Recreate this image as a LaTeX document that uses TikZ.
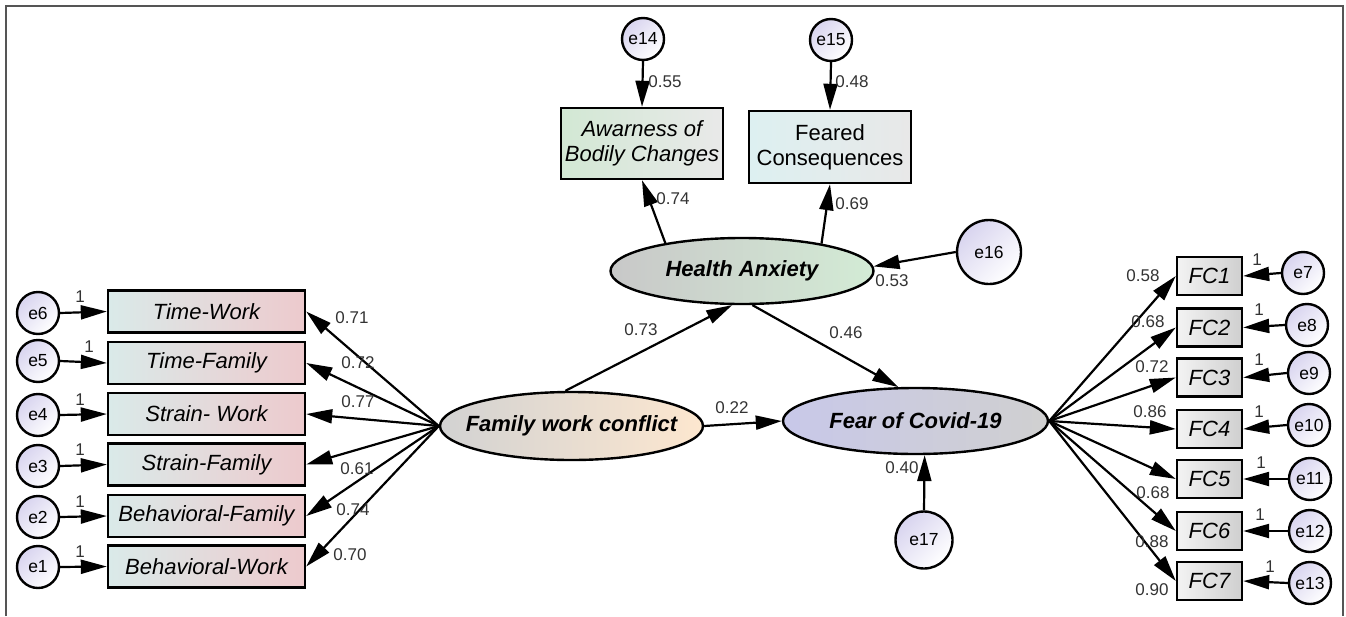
\documentclass[tikz,border=0pt]{standalone}
\usepackage{fontspec}
\setmainfont{Liberation Sans}
\usetikzlibrary{arrows.meta,shapes.geometric}
\definecolor{lbl}{HTML}{DAEAE9}
\definecolor{lbr}{HTML}{EDCACD}
\definecolor{awl}{HTML}{D2E8D4}
\definecolor{awr}{HTML}{E9E9E9}
\definecolor{fql}{HTML}{DDF0F1}
\definecolor{fqr}{HTML}{E8E8E8}
\definecolor{fcl}{HTML}{F3F3F3}
\definecolor{fcr}{HTML}{CFCFCF}
\definecolor{hal}{HTML}{C8C8C8}
\definecolor{har}{HTML}{D3EBD5}
\definecolor{faml}{HTML}{D2D2D2}
\definecolor{famr}{HTML}{FDE7CF}
\definecolor{fearl}{HTML}{C8C8E9}
\definecolor{fearr}{HTML}{D0D0D0}
\definecolor{cirl}{HTML}{D8D4EF}
\definecolor{labc}{HTML}{333333}
\definecolor{framec}{HTML}{555555}
\begin{document}
\begin{tikzpicture}[x=1pt,y=-1pt,
  box/.style={draw=black, line width=2.4pt, rectangle, inner sep=0pt,
    font=\fontsize{22}{25}\selectfont\itshape},
  lbox/.style={box, minimum width=197pt, minimum height=42pt, left color=lbl, right color=lbr},
  fcbox/.style={box, minimum width=65pt, minimum height=38pt, left color=fcl, right color=fcr},
  latent/.style={draw=black, line width=2.4pt, ellipse, inner sep=0pt,
    font=\fontsize{22}{25}\selectfont\bfseries\itshape},
  err/.style={draw=black, line width=2.4pt, circle, inner sep=0pt, minimum size=42pt,
    top color=cirl, bottom color=white, shading angle=45, font=\fontsize{17.5}{20}\selectfont},
  lab/.style={inner sep=0pt, text=labc, font=\fontsize{17}{19}\selectfont},
  arr/.style={line width=2.2pt, -{Triangle[length=26pt,width=14pt]}}
]
\useasboundingbox (0,0) rectangle (1346,616);
\draw[framec, line width=1.5pt] (6,616) -- (6,6) -- (1343,6) -- (1343,616);

% left indicators
\node[lbox] (tw) at (206.5,311.5) {Time-Work};
\node[lbox] (tf) at (206.5,363) {Time-Family};
\node[lbox] (sw) at (206.5,414) {Strain- Work};
\node[lbox] (sf) at (206.5,464.5) {Strain-Family};
\node[lbox] (bf) at (206.5,516) {Behavioral-Family};
\node[lbox] (bw) at (206.5,566.5) {Behavioral-Work};

\node[err] (e6) at (38,313) {e6};
\node[err] (e5) at (38,361) {e5};
\node[err] (e4) at (38,415) {e4};
\node[err] (e3) at (38,466) {e3};
\node[err] (e2) at (38,517) {e2};
\node[err] (e1) at (38,567) {e1};

\foreach \e/\b in {e6/tw,e5/tf,e4/sw,e3/sf,e2/bf,e1/bw}
  \draw[arr] (\e.east) -- (\b.west);

\node[lab] (o6) at (80,297) {1};
\node[lab] (o5) at (89,347) {1};
\node[lab] (o4) at (80,400) {1};
\node[lab] (o3) at (80,450) {1};
\node[lab] (o2) at (80,502) {1};
\node[lab] (o1) at (80,552) {1};

% latent variables
\node[latent, minimum width=263pt, minimum height=68pt, left color=faml, right color=famr]
  (fam) at (571.5,426) {\makebox[0pt]{Family work conflict}};
\node[latent, minimum width=265pt, minimum height=66pt, left color=fearl, right color=fearr]
  (fear) at (915.5,421) {\makebox[0pt]{Fear of Covid-19}};
\node[latent, minimum width=263pt, minimum height=66pt, left color=hal, right color=har]
  (ha) at (742,271) {\makebox[0pt]{Health Anxiety}};

% health anxiety indicators
\node[box, minimum width=162pt, minimum height=71pt, align=center, left color=awl, right color=awr]
  (aw) at (642,143.5) {Awarness of\\Bodily Changes};
\node[box, minimum width=162pt, minimum height=72pt, align=center, left color=fql, right color=fqr,
  font=\fontsize{22}{25}\selectfont\upshape]
  (fcq) at (830,147) {Feared\\Consequences};

\node[err] (e14) at (643,39) {e14};
\node[err] (e15) at (831,40) {e15};
\node[err, minimum size=64pt] (e16) at (989,252) {e16};
\node[err, minimum size=57pt] (e17) at (924,540) {e17};

\draw[arr] (e14.south) -- (aw.north);
\draw[arr] (e15.south) -- (fcq.north);
\draw[arr] (ha.160) -- (aw.south);
\draw[arr] (ha.19) -- (fcq.south);
\draw[arr] (e16.west) -- (ha.2);
\draw[arr] (e17.north) -- (fear.285);
\draw[arr] (fam.100) -- (ha.254);
\draw[arr] (ha.287) -- (fear.117);
\draw[arr] (fam.east) -- (fear.west);

\foreach \b in {tw,tf,sw,sf,bf,bw}
  \draw[arr] (fam.west) -- (\b.east);

% right indicators
\node[fcbox] (fc1) at (1209.5,276) {FC1};
\node[fcbox] (fc2) at (1209.5,327.5) {FC2};
\node[fcbox] (fc3) at (1209.5,377.5) {FC3};
\node[fcbox] (fc4) at (1209.5,429) {FC4};
\node[fcbox] (fc5) at (1209.5,479) {FC5};
\node[fcbox] (fc6) at (1209.5,531) {FC6};
\node[fcbox] (fc7) at (1209.5,581) {FC7};

\node[err] (e7) at (1303,273) {e7};
\node[err] (e8) at (1307,325) {e8};
\node[err] (e9) at (1309,373) {e9};
\node[err] (e10) at (1309,425) {e10};
\node[err] (e11) at (1310,479) {e11};
\node[err] (e12) at (1310,531) {e12};
\node[err] (e13) at (1310,583) {e13};

\foreach \e/\b in {e7/fc1,e8/fc2,e9/fc3,e10/fc4,e11/fc5,e12/fc6,e13/fc7}
  \draw[arr] (\e.west) -- (\b.east);
\foreach \b in {fc1,fc2,fc3,fc4,fc5,fc6,fc7}
  \draw[arr] (fear.east) -- (\b.west);

\node[lab] (r1) at (1257,260) {1};
\node[lab] (r2) at (1259,310) {1};
\node[lab] (r3) at (1259,360) {1};
\node[lab] (r4) at (1259,412) {1};
\node[lab] (r5) at (1261,463) {1};
\node[lab] (r6) at (1260,515) {1};
\node[lab] (r7) at (1270,567) {1};

% coefficients
\node[lab] (l71) at (352,318) {0.71};
\node[lab] (l72) at (358,363) {0.72};
\node[lab] (l77) at (358,402) {0.77};
\node[lab] (l61) at (357,469) {0.61};
\node[lab] (l74) at (353,510) {0.74};
\node[lab] (l70) at (350,555) {0.70};

\node[lab] (c73) at (641,330) {0.73};
\node[lab] (c46) at (846,333) {0.46};
\node[lab] (c22) at (732,408) {0.22};
\node[lab] (c40) at (902,468) {0.40};
\node[lab] (c55) at (665,82) {0.55};
\node[lab] (c48) at (852,82) {0.48};
\node[lab] (c74) at (673,199) {0.74};
\node[lab] (c69) at (852,204) {0.69};
\node[lab] (c53) at (892,281) {0.53};

\node[lab] (f58) at (1143,276) {0.58};
\node[lab] (f68a) at (1148,322) {0.68};
\node[lab] (f72) at (1152,367) {0.72};
\node[lab] (f86) at (1150,412) {0.86};
\node[lab] (f68b) at (1153,493) {0.68};
\node[lab] (f88) at (1152,542) {0.88};
\node[lab] (f90) at (1152,590) {0.90};
\end{tikzpicture}
\end{document}
